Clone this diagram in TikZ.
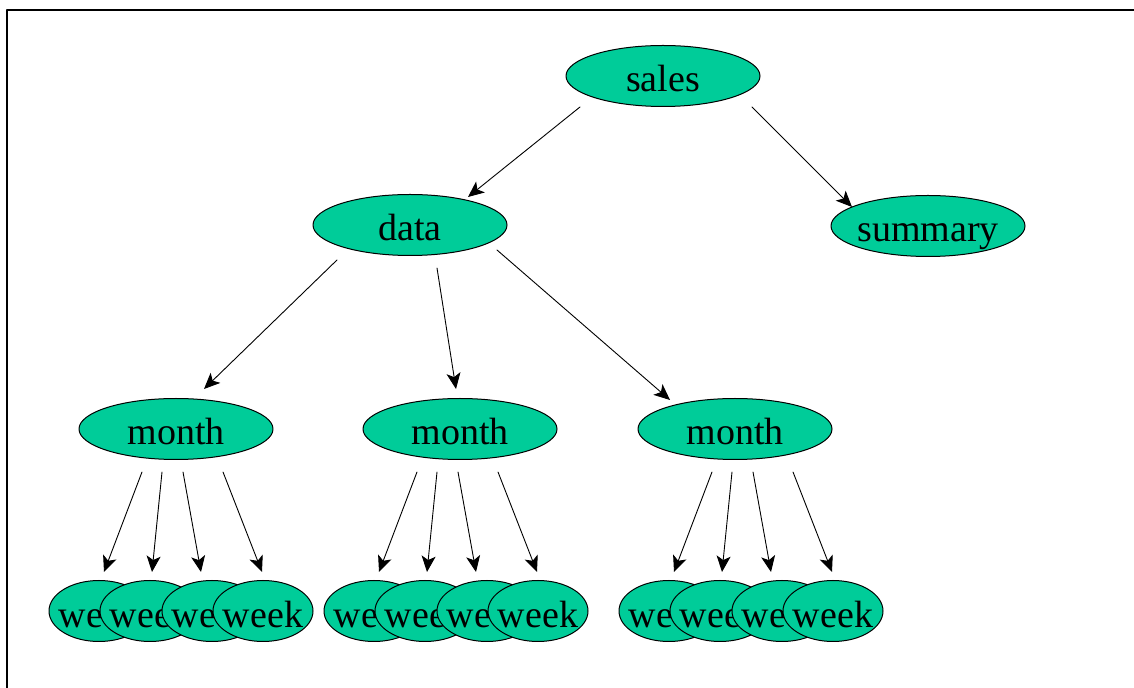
\documentclass[tikz,border=0pt]{standalone}
\usepackage{fontspec}
\setmainfont{Liberation Serif}
\usepackage{xcolor}
\usetikzlibrary{arrows.meta,shapes.geometric,calc}
\definecolor{verdeacqua}{RGB}{0,204,153}

\begin{document}
\begin{tikzpicture}[x=0.5pt, y=-0.5pt, line cap=round, line join=round,
    >={Stealth[length=8pt,width=7pt,inset=2pt]},
    nodo/.style={ellipse, draw=black, line width=0.5pt, fill=verdeacqua,
      minimum width=97pt, minimum height=30.5pt, inner xsep=-12pt, inner ysep=0pt,
      text height=16pt, text depth=0pt,
      font=\fontsize{19}{20}\selectfont},
    sett/.style={nodo, minimum width=50pt},
    arco/.style={->, line width=0.45pt}]

\useasboundingbox (0,0) rectangle (1134,688);

% Cornice
\draw[line width=0.8pt, line cap=butt] (7,688) -- (7,10) -- (1134,10);

% Radice e primo livello
\node[nodo] (sales) at (663,76) {sales};
\node[nodo] (data) at (410,225) {data};
\node[nodo] (summary) at (928,226) {summary};

\draw[arco] ($(sales)+(-83,31)$) -- ($(data)+(58,-28)$);
\draw[arco] ($(sales)+(89,31)$) -- ($(summary)+(-76,-19)$);

% Mesi e settimane
\foreach \m/\mx/\wx in {1/176/99, 2/460/374, 3/735/669} {
  \node[nodo] (mon\m) at (\mx,429) {month};
  \foreach \k/\dx in {1/0, 2/51, 3/113, 4/164}
    \node[sett] (w\m\k) at (\wx+\dx,611) {week};
  \foreach \k/\s/\t in {1/43/5, 2/63/2, 3/84/-11, 4/124/-1}
    \draw[arco] ($(mon\m)+(\wx+\s-\mx,43)$) -- ($(w\m\k)+(\t,-39)$);
}

\draw[arco] ($(data)+(-73,35)$) -- ($(mon1)+(28,-40)$);
\draw[arco] ($(data)+(27,43)$) -- ($(mon2)+(-4,-40)$);
\draw[arco] ($(data)+(87,25)$) -- ($(mon3)+(-65,-29)$);

\end{tikzpicture}
\end{document}
